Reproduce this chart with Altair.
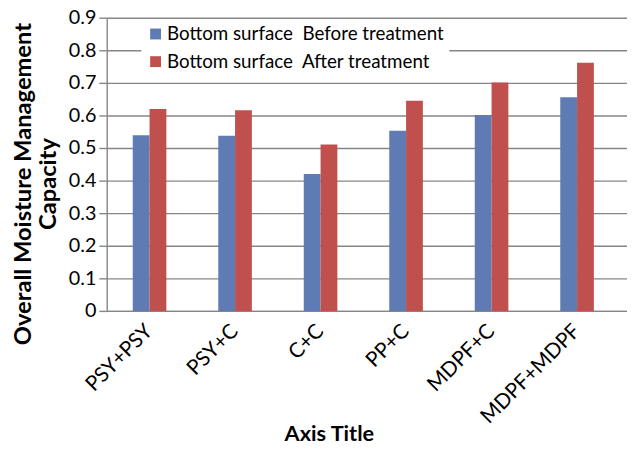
import altair as alt
import pandas as pd

categories = ["PSY+PSY", "PSY+C", "C+C", "PP+C", "MDPF+C", "MDPF+MDPF"]
before_vals = [0.539, 0.538, 0.420, 0.553, 0.601, 0.656]
after_vals = [0.620, 0.616, 0.511, 0.645, 0.701, 0.762]
series_names = ["Bottom surface\u00a0 Before treatment", "Bottom surface\u00a0 After treatment"]
series_colors = ["#5F7BB4", "#C0504D"]
y_ticks = [0, 0.1, 0.2, 0.3, 0.4, 0.5, 0.6, 0.7, 0.8, 0.9]

rows = []
for c, b, a in zip(categories, before_vals, after_vals):
    rows.append({"cat": c, "series": series_names[0], "value": b})
    rows.append({"cat": c, "series": series_names[1], "value": a})
df = pd.DataFrame(rows)

FONT = "Lato"
GRID = "#868686"

chart = alt.Chart(df).mark_bar().encode(
    x=alt.X("cat:N", sort=categories,
            scale=alt.Scale(paddingInner=0.607, paddingOuter=0.346, align=0.44, round=False),
            axis=alt.Axis(title="Axis Title", labelAngle=-45, labelAlign="right",
                          labelBaseline="middle", labelPadding=17, labelFontSize=21,
                          labelFont=FONT, labelColor="black", ticks=False,
                          domainColor=GRID, domainWidth=1.4,
                          titleFont=FONT, titleFontSize=22, titleFontWeight="bold",
                          titleColor="black", titleX=225, titleY=131,
                          titleAlign="center", titleBaseline="alphabetic")),
    xOffset=alt.XOffset("series:N", sort=series_names,
                        scale=alt.Scale(paddingInner=0, paddingOuter=0)),
    y=alt.Y("value:Q", scale=alt.Scale(domain=[0, 0.9], nice=False),
            axis=alt.Axis(values=y_ticks,
                          labelExpr="datum.value == 0 ? '0' : format(datum.value, '.1f')",
                          title=["Overall Moisture Management", "Capacity"],
                          labelFontSize=20, labelFont=FONT, labelColor="black",
                          labelPadding=3, tickSize=8, tickColor=GRID, tickWidth=1.4,
                          domainColor=GRID, domainWidth=1.4,
                          grid=True, gridColor=GRID, gridWidth=1.4,
                          titleFont=FONT, titleFontSize=24, titleFontWeight="bold",
                          titleColor="black", titleAngle=-90, titleX=-96, titleY=168,
                          titleAlign="center", titleBaseline="top", titleLineHeight=25)),
    color=alt.Color("series:N", sort=series_names,
                    scale=alt.Scale(domain=series_names, range=series_colors),
                    legend=alt.Legend(title=None, orient="none", legendX=35, legendY=2,
                                      fillColor="white", padding=5,
                                      symbolType="square", symbolSize=121,
                                      symbolStrokeWidth=0, labelFontSize=19,
                                      labelFont=FONT, labelColor="black",
                                      labelOffset=2, rowPadding=8, labelLimit=400)),
).properties(
    width=527, height=297,
    autosize=alt.AutoSizeParams(type="none"),
    padding={"left": 100, "top": 7, "right": 0, "bottom": 134},
    background="white",
).configure_view(stroke=None)

chart.save("out.html", embed_options={"renderer": "svg", "actions": False})
